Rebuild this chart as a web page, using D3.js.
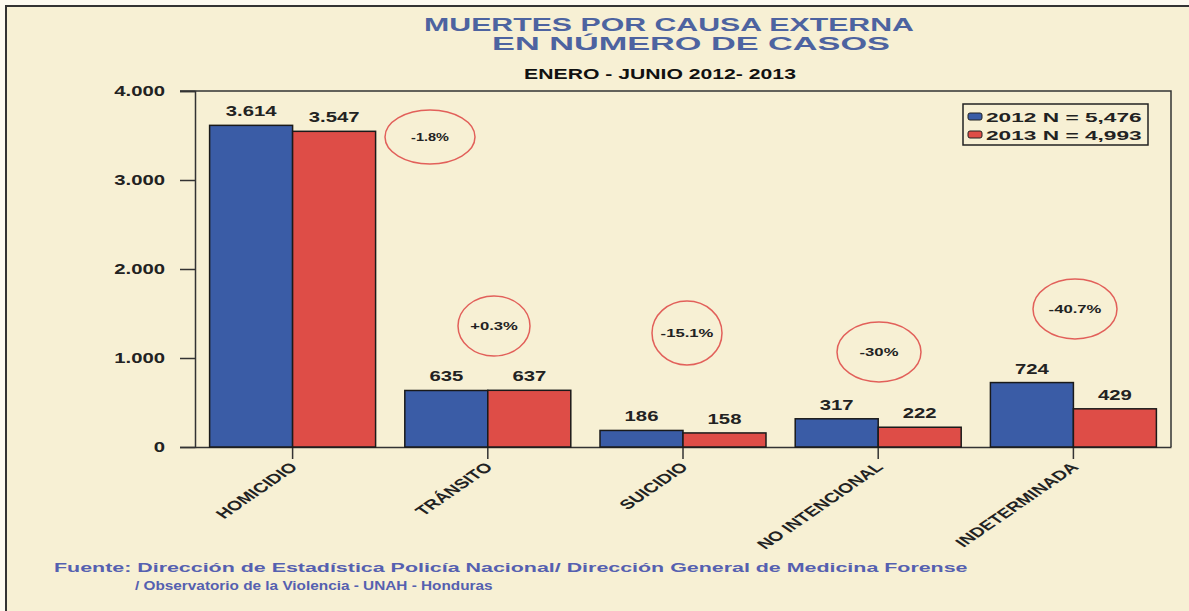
<!DOCTYPE html>
<html>
<head>
<meta charset="utf-8">
<script src="https://cdn.jsdelivr.net/npm/d3@7"></script>
<style>
  body { margin: 0; background: #fff; }
  svg text { font-family: "Liberation Sans", Arial, sans-serif; font-weight: bold; }
</style>
</head>
<body>
<div id="chart"></div>
<script>
// data
const categories = ["HOMICIDIO", "TRÁNSITO", "SUICIDIO", "NO INTENCIONAL", "INDETERMINADA"];
const series = ["2012", "2013"];
const values2012 = [3614, 635, 186, 317, 724];
const values2013 = [3547, 637, 158, 222, 429];
const valueLabels2012 = ["3.614", "635", "186", "317", "724"];
const valueLabels2013 = ["3.547", "637", "158", "222", "429"];
const changes = ["-1.8%", "+0.3%", "-15.1%", "-30%", "-40.7%"];
const yTicks = [0, 1000, 2000, 3000, 4000];
const yTickLabels = ["0", "1.000", "2.000", "3.000", "4.000"];
const legendLabels = ["2012 N = 5,476", "2013 N = 4,993"];

const colors = { "2012": "#3a5ca6", "2013": "#de4d47" };
const ink = "#222";
const SX = 1.45; // the scanned chart is stretched sideways

const W = 1189, H = 611;
const svg = d3.select("#chart").append("svg").attr("width", W).attr("height", H);

// text placed at (x,y) and stretched horizontally
const wideText = (parent, x, y, str, size, sx, anchor) =>
  parent.append("text")
    .attr("transform", `translate(${x},${y}) scale(${sx},1)`)
    .attr("text-anchor", anchor || "middle")
    .attr("font-size", size).attr("fill", ink)
    .text(str);

// stretch a text so it covers a given width
const fitWidth = (sel, x, y, len) => {
  const natural = sel.node().getComputedTextLength();
  sel.attr("transform", `translate(${x},${y}) scale(${len / natural},1)`);
  return sel;
};

// paper background + frame
svg.append("rect").attr("width", W).attr("height", H).attr("fill", "#fdfaf0");
svg.append("rect")
  .attr("x", 6).attr("y", 6).attr("width", W + 10).attr("height", H + 10)
  .attr("fill", "#f7f0d4").attr("stroke", "#333").attr("stroke-width", 2);

// titles
const title = (x, y, str, size, len, fill) =>
  fitWidth(svg.append("text").attr("text-anchor", "middle")
    .attr("font-size", size).attr("fill", fill).text(str), x, y, len);
title(669, 31, "MUERTES POR CAUSA EXTERNA", 18, 490, "#4d63a0");
title(691, 50, "EN NÚMERO DE CASOS", 18, 398, "#4d63a0");
title(660, 79, "ENERO - JUNIO 2012- 2013", 14.5, 272, "#111");

// scales
const plot = { left: 195, right: 1171, top: 91, bottom: 447 };
const x0 = d3.scaleBand().domain(categories).range([plot.left, plot.right]);
const x1 = d3.scaleBand().domain(series).range([0, x0.bandwidth()]).paddingOuter(0.176);
const y = d3.scaleLinear().domain([0, 4000]).range([plot.bottom, plot.top]);

// plot box: top + right edge
svg.append("path")
  .attr("d", `M${plot.left - 15},${plot.top}H${plot.right}V${plot.bottom}`)
  .attr("fill", "none").attr("stroke", "#333").attr("stroke-width", 1.5);

// y axis
const yAxis = svg.append("g").attr("transform", `translate(${plot.left},0)`)
  .call(d3.axisLeft(y).tickValues(yTicks).tickSize(15).tickFormat(""));
yAxis.select(".domain").attr("stroke", "#333").attr("stroke-width", 1.5);
yAxis.selectAll(".tick line").attr("stroke", "#333").attr("stroke-width", 1.5);
const yLab = svg.append("g");
yTicks.forEach((t, i) => wideText(yLab, 165, y(t) + 5, yTickLabels[i], 14, SX, "end"));

// x axis
const xAxis = svg.append("g").attr("transform", `translate(0,${plot.bottom})`)
  .call(d3.axisBottom(x0).tickSize(12).tickSizeOuter(0).tickFormat(""));
xAxis.select(".domain").attr("stroke", "#333").attr("stroke-width", 1.5);
xAxis.selectAll(".tick line").attr("stroke", "#333").attr("stroke-width", 1.5);

// rotated category labels (45 deg, then stretched like the scan)
svg.append("g").selectAll("text").data(categories).join("text")
  .attr("transform", d =>
    `translate(${x0(d) + x0.bandwidth() / 2 + 6},${plot.bottom + 21}) scale(${SX},1) rotate(-45)`)
  .attr("text-anchor", "end").attr("font-size", 13.5).attr("fill", ink)
  .text(d => d);

// bars
const rows = categories.map((c, i) => ({
  cat: c,
  vals: [
    { s: "2012", v: values2012[i], label: valueLabels2012[i] },
    { s: "2013", v: values2013[i], label: valueLabels2013[i] },
  ],
}));

const groups = svg.append("g").selectAll("g").data(rows).join("g")
  .attr("transform", d => `translate(${x0(d.cat)},0)`);

groups.selectAll("rect").data(d => d.vals).join("rect")
  .attr("x", d => x1(d.s))
  .attr("y", d => y(d.v))
  .attr("width", x1.bandwidth())
  .attr("height", d => y(0) - y(d.v))
  .attr("fill", d => colors[d.s])
  .attr("stroke", "#1a1a1a").attr("stroke-width", 1.5);

groups.selectAll("text").data(d => d.vals).join("text")
  .attr("transform", d => `translate(${x1(d.s) + x1.bandwidth() / 2},${y(d.v) - 9}) scale(${SX},1)`)
  .attr("text-anchor", "middle").attr("font-size", 14).attr("fill", ink)
  .text(d => d.label);

// change bubbles (hand-drawn red ellipses)
const bubbles = [
  { cx: 430, cy: 137, rx: 45, ry: 27, fs: 10 },
  { cx: 494, cy: 326, rx: 36, ry: 30, fs: 11.5 },
  { cx: 687, cy: 333, rx: 35, ry: 32, fs: 11.5 },
  { cx: 879, cy: 352, rx: 42, ry: 30, fs: 11.5 },
  { cx: 1075, cy: 309, rx: 42, ry: 30, fs: 11.5 },
];
const bg = svg.append("g").selectAll("g").data(changes).join("g")
  .attr("transform", (d, i) => `translate(${bubbles[i].cx},${bubbles[i].cy})`);
bg.append("ellipse")
  .attr("rx", (d, i) => bubbles[i].rx).attr("ry", (d, i) => bubbles[i].ry)
  .attr("fill", "none").attr("stroke", "#e2605a").attr("stroke-width", 1.5);
bg.append("text").attr("text-anchor", "middle")
  .attr("transform", `translate(0,4) scale(${SX},1)`)
  .attr("font-size", (d, i) => bubbles[i].fs).attr("fill", ink)
  .text(d => d);

// legend
const legend = svg.append("g").attr("transform", "translate(963,104)");
legend.append("rect").attr("width", 185).attr("height", 41)
  .attr("fill", "#f7f0d4").attr("stroke", ink).attr("stroke-width", 1.5);
const li = legend.selectAll("g").data(series).join("g")
  .attr("transform", (d, i) => `translate(5,${12 + i * 18})`);
li.append("rect").attr("x", 0).attr("y", -3).attr("width", 14).attr("height", 7).attr("rx", 2)
  .attr("fill", d => colors[d]).attr("stroke", ink).attr("stroke-width", 1);
li.each(function (d, i) {
  wideText(d3.select(this), 18, 6, legendLabels[i], 13.5, 1.68, "start");
});

// source note
const srcText = (x, y, str, len) =>
  fitWidth(svg.append("text").attr("font-size", 13.5).attr("fill", "#5560b0").text(str), x, y, len);
srcText(54, 572, "Fuente: Dirección de Estadística Policía Nacional/ Dirección General de Medicina Forense", 914);
srcText(135, 590, "/ Observatorio de la Violencia - UNAH - Honduras", 358);
</script>
</body>
</html>
